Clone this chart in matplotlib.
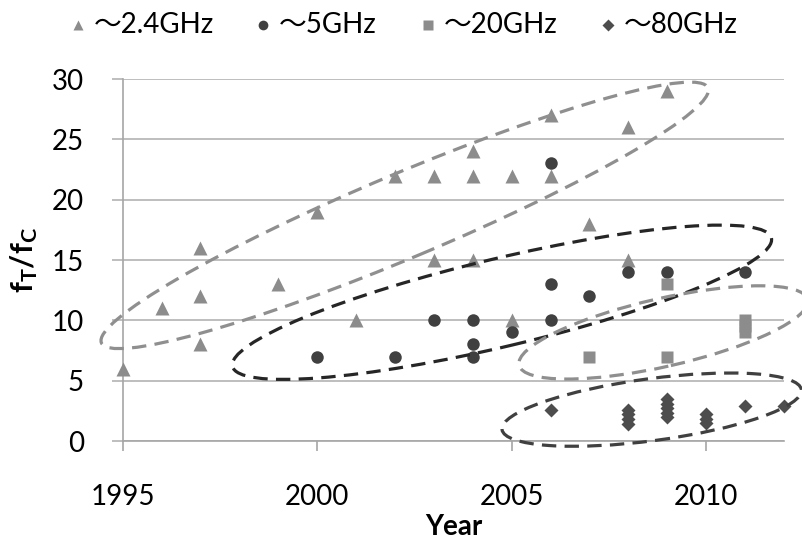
import matplotlib
matplotlib.use("Agg")
import matplotlib.pyplot as plt
import matplotlib.transforms as mtransforms
from matplotlib.patches import Ellipse
from matplotlib.lines import Line2D

plt.rcParams['font.family'] = ['Lato', 'Noto Sans CJK JP', 'DejaVu Sans']
plt.rcParams['mathtext.fontset'] = 'custom'
plt.rcParams['mathtext.bf'] = 'Lato:bold'
plt.rcParams['mathtext.rm'] = 'Lato'

# 데이터
tri_x = [1995, 1996, 1997, 1997, 1997, 1999, 2000, 2001, 2002, 2003, 2003,
         2004, 2004, 2004, 2005, 2005, 2006, 2006, 2007, 2008, 2008, 2009]
tri_y = [6, 11, 16, 12, 8, 13, 19, 10, 22, 22, 15,
         24, 22, 15, 22, 10, 27, 22, 18, 26, 15, 29]

circ_x = [2000, 2002, 2003, 2004, 2004, 2004, 2005, 2006, 2006, 2006, 2007, 2008, 2009, 2011]
circ_y = [7, 7, 10, 10, 8, 7, 9, 23, 13, 10, 12, 14, 14, 14]

sq_x = [2007, 2009, 2009, 2011, 2011, 2011]
sq_y = [7, 13, 7, 10, 9.5, 9]

dia_x = [2006, 2008, 2008, 2008, 2008, 2009, 2009, 2009, 2009, 2009,
         2010, 2010, 2010, 2011, 2012]
dia_y = [2.6, 2.6, 2.2, 1.8, 1.4, 3.5, 3.1, 2.7, 2.3, 2.0,
         2.2, 1.8, 1.5, 2.9, 2.9]

labels = ['～2.4GHz', '～5GHz', '～20GHz', '～80GHz']
x_ticks = [1995, 2000, 2005, 2010]
y_ticks = [0, 5, 10, 15, 20, 25, 30]

# 타원 표시 (중심: 데이터 좌표, 크기: 픽셀, 각도)
ellipses = [
    ((2002.25, 18.7), 658, 84, 22.8, '#8f8f8f'),
    ((2004.75, 11.5), 554, 88, 13.4, '#262626'),
    ((2008.9, 9.0), 296, 68, 12.8, '#8f8f8f'),
    ((2008.6, 2.6), 302, 62, 7.6, '#404040'),
]

W, H = 803, 545
fig = plt.figure(figsize=(W / 100, H / 100), dpi=100)
ax = fig.add_axes([0.1528, 0.1908, 0.8235, 0.6642])

grey = '#8c8c8c'
dark = '#404040'
dgrey = '#4d4d4d'

ax.plot(tri_x, tri_y, '^', color=grey, ms=9.5, mec='none', clip_on=False, zorder=3)
ax.plot(circ_x, circ_y, 'o', color=dark, ms=9, mec='none', clip_on=False, zorder=3)
ax.plot(sq_x, sq_y, 's', color=grey, ms=8.5, mec='none', clip_on=False, zorder=3)
ax.plot(dia_x, dia_y, 'D', color=dgrey, ms=7.5, mec='none', clip_on=False, zorder=3)

for (cx, cy), w, h, ang, col in ellipses:
    tr = fig.dpi_scale_trans + mtransforms.ScaledTranslation(cx, cy, ax.transData)
    e = Ellipse((0, 0), w / 100, h / 100, angle=ang, transform=tr,
                fill=False, edgecolor=col, lw=2.3, linestyle=(0, (4.5, 2.6)),
                clip_on=False, zorder=4)
    ax.add_artist(e)

ax.set_xlim(1995, 2012)
ax.set_ylim(0, 30)
ax.set_xticks(x_ticks)
ax.set_yticks(y_ticks)
ax.grid(axis='y', color='#b3b3b3', lw=1.2)
ax.set_axisbelow(True)

for s in ['top', 'right']:
    ax.spines[s].set_visible(False)
for s in ['left', 'bottom']:
    ax.spines[s].set_color('#a6a6a6')
    ax.spines[s].set_linewidth(1.2)

ax.tick_params(axis='y', length=8, width=1.2, color='#b3b3b3', pad=20, labelsize=20)
ax.tick_params(axis='x', length=7, width=1.2, color='#a6a6a6', pad=24, labelsize=20)

ax.set_xlabel('Year', fontsize=20, fontweight='bold', labelpad=3)
ax.set_ylabel(r'$\mathbf{f_T/f_C}$', fontsize=22, labelpad=8)

# 범례 (직접 배치)
leg_markers = [('^', grey, 7), ('o', dark, 7), ('s', grey, 6.5), ('D', dgrey, 6)]
leg_marker_px = [78, 263, 428, 608]
leg_y = 1 - 25 / H
for (m, c, ms), mx, lab in zip(leg_markers, leg_marker_px, labels):
    fig.add_artist(Line2D([mx / W], [leg_y], ls='none', marker=m, color=c,
                          ms=ms, mec='none', transform=fig.transFigure))
    fig.text((mx + 16) / W, leg_y, lab, fontsize=20, va='center', ha='left')

fig.savefig('out.png', dpi=100)
